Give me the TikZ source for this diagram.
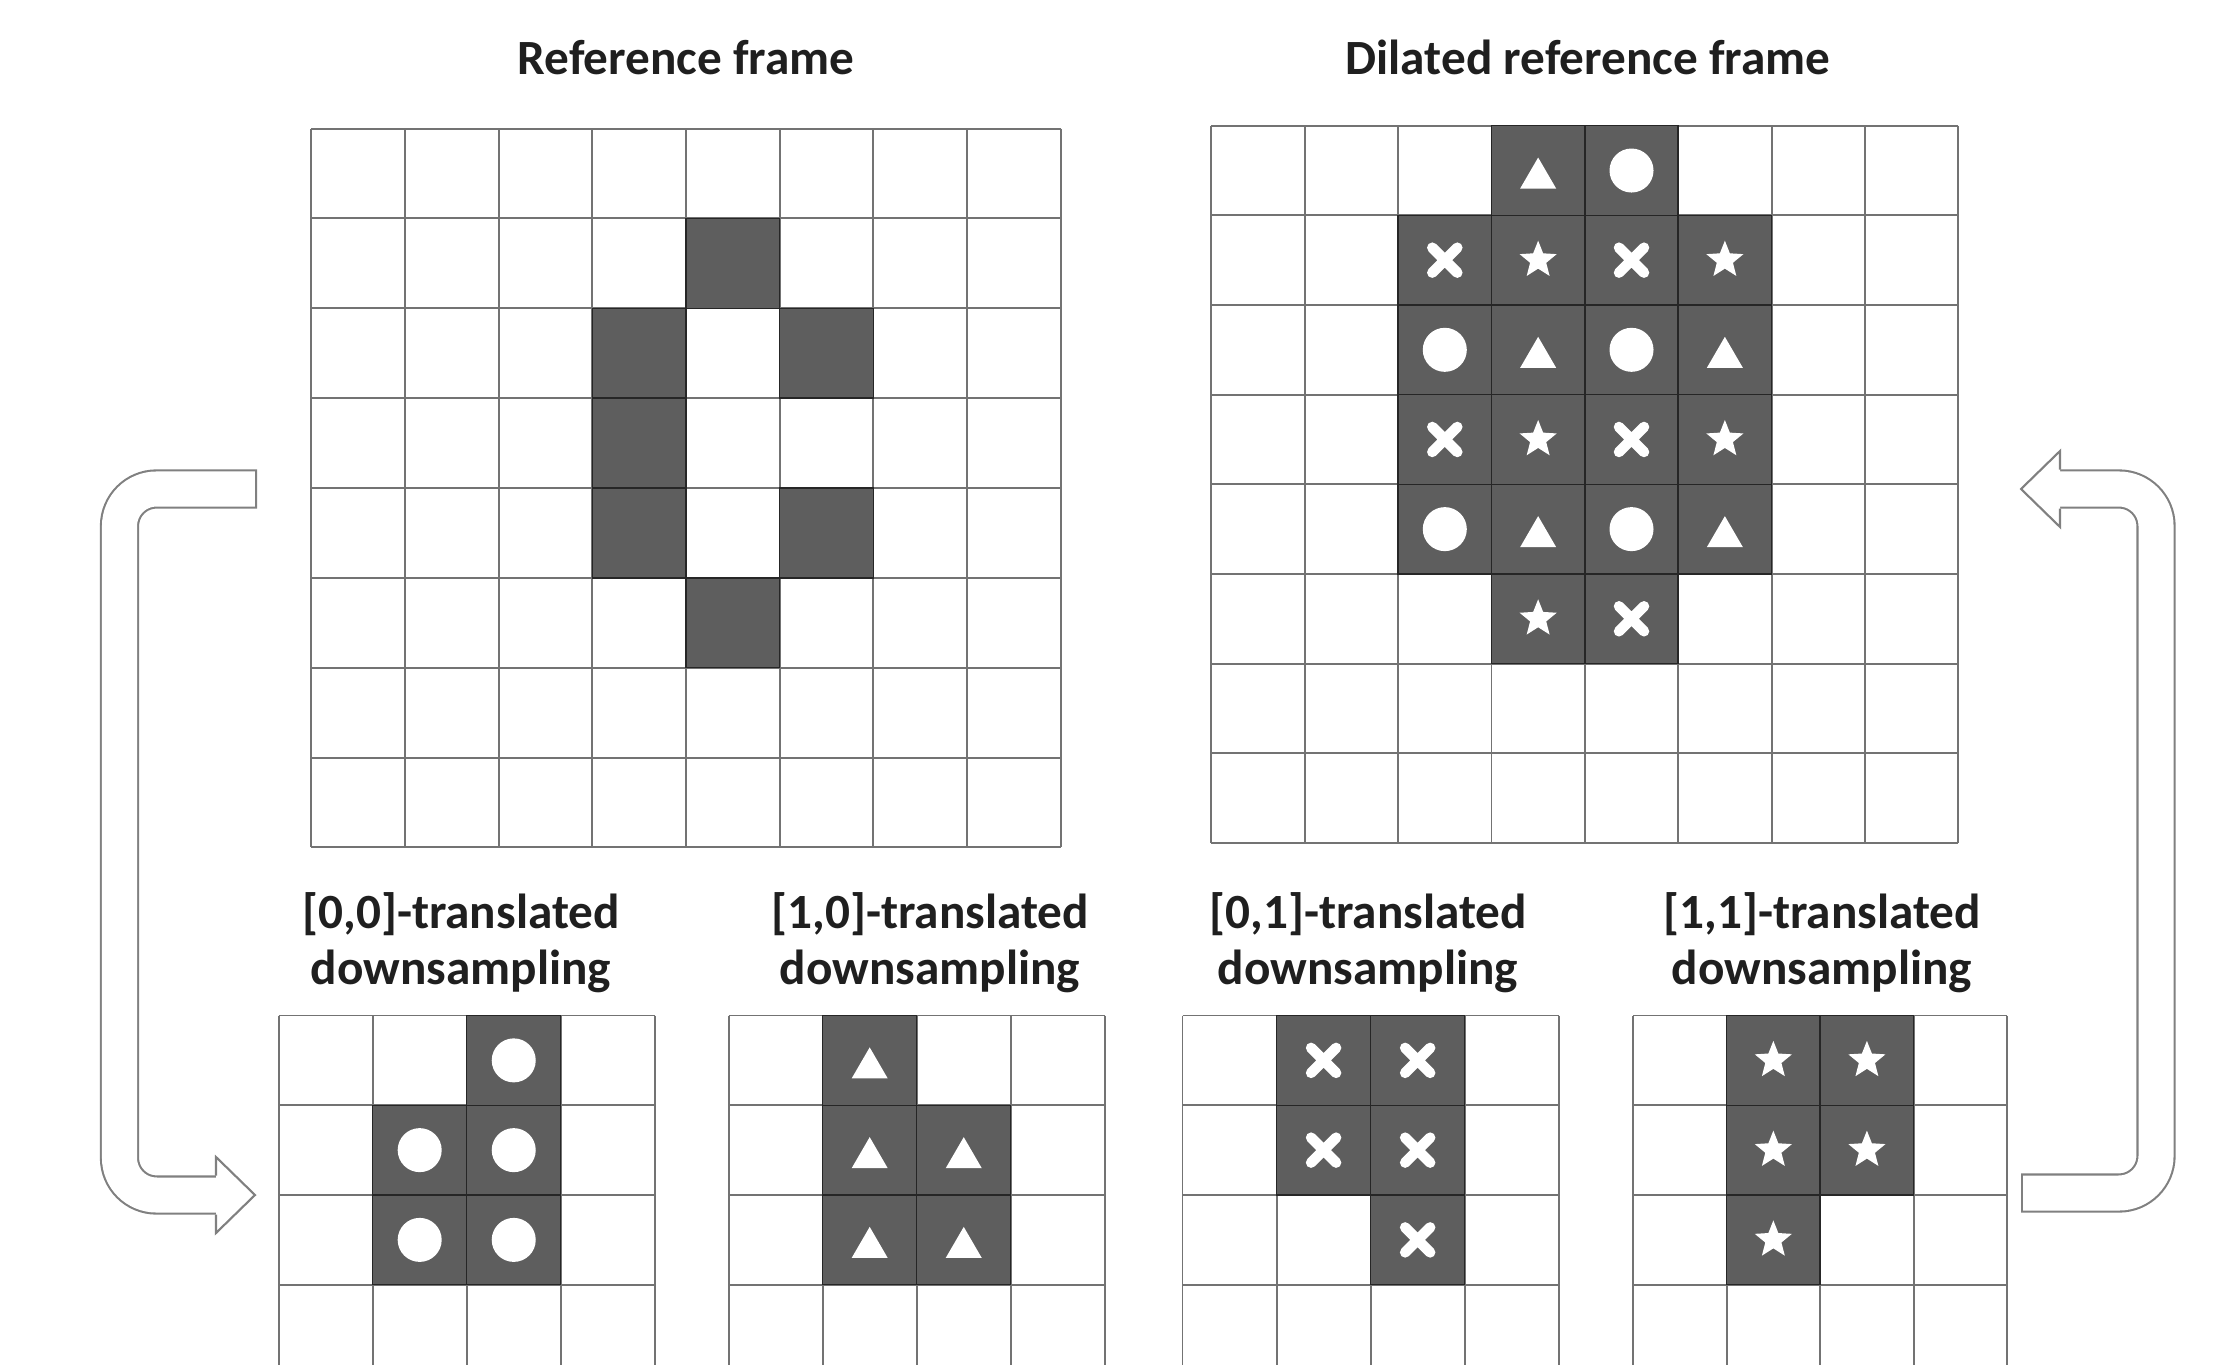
\documentclass[tikz,border=0pt]{standalone}
\usepackage{fontspec}
\setmainfont{Carlito}
\usetikzlibrary{calc,shapes.geometric}

\newcommand{\drawgrid}[3]{% columns, horizontal lines, depth
  \foreach \i in {0,...,#1} {\draw[gridline] (\i,0) -- (\i,#3);}
  \foreach \j in {0,...,#2} {\draw[gridline] (0,\j) -- (#1,\j);}
}
\newcommand{\darkcell}[2]{\path[hit] (#1,#2) rectangle ++(1,1);}
\newcommand{\hitcell}[3]{% column, row, symbol
  \darkcell{#1}{#2}
  \pic at (#1+0.5,#2+0.5) {#3};
}

\tikzset{
  dotpic/.pic={\fill[white] (0,0) circle[radius=0.22cm];},
  tripic/.pic={\fill[white] (-0.18cm,-0.18cm) -- (0.18cm,-0.18cm) -- (0,0.13cm) -- cycle;},
  crosspic/.pic={\draw[white, line width=0.105cm, line cap=round]
      (-0.125cm,-0.125cm) -- (0.125cm,0.125cm) (-0.125cm,0.125cm) -- (0.125cm,-0.125cm);},
  starpic/.pic={\node[star, star points=5, star point ratio=2.3, fill=white,
      inner sep=0pt, minimum size=0.39cm] {};}
}

\begin{document}
\begin{tikzpicture}[
  x=0.01cm, y=-0.01cm,
  title/.style={font=\fontsize{14}{15.8}\selectfont\bfseries, text=black!88,
                inner sep=0pt, align=center},
  gridline/.style={draw=black!55, line width=0.55pt},
  hit/.style={fill=black!63, draw=black!85, line width=0.4pt},
  hollow/.style={draw=black!50, line width=0.6pt, double=white,
                 double distance=0.35cm, line cap=rect, rounded corners=0.37cm},
  head/.style={draw=black!50, fill=white, line width=0.6pt}
]
  \useasboundingbox (0,0) rectangle (2240,1364);

  % titles
  \node[title, anchor=base] (reftitle) at (686,75) {Reference frame};
  \node[title, anchor=base] (diltitle) at (1588,75) {Dilated reference frame};

  % reference frame
  \begin{scope}[shift={(311.4,128.6)}, x=0.936cm, y=-0.898cm]
    \drawgrid{8}{8}{8}
    \foreach \c/\r in {4/1, 3/2, 5/2, 3/3, 3/4, 5/4, 4/5} {\darkcell{\c}{\r}}
  \end{scope}

  % dilated reference frame
  \begin{scope}[shift={(1211.4,125.7)}, x=0.933cm, y=-0.896cm]
    \drawgrid{8}{8}{8}
    \foreach \c/\r in {4/0, 2/2, 4/2, 2/4, 4/4} {\hitcell{\c}{\r}{dotpic}}
    \foreach \c/\r in {3/0, 3/2, 5/2, 3/4, 5/4} {\hitcell{\c}{\r}{tripic}}
    \foreach \c/\r in {2/1, 4/1, 2/3, 4/3, 4/5} {\hitcell{\c}{\r}{crosspic}}
    \foreach \c/\r in {3/1, 5/1, 3/3, 5/3, 3/5} {\hitcell{\c}{\r}{starpic}}
  \end{scope}

  % translated downsamplings
  \node[title, anchor=base] (lab00) at (461,984) {[0,0]-translated\\downsampling};
  \node[title, anchor=base] (lab10) at (930,984) {[1,0]-translated\\downsampling};
  \node[title, anchor=base] (lab01) at (1368,984) {[0,1]-translated\\downsampling};
  \node[title, anchor=base] (lab11) at (1822,984) {[1,1]-translated\\downsampling};

  \begin{scope}[shift={(278.6,1015.5)}, x=0.94cm, y=-0.897cm]
    \drawgrid{4}{3}{3.95}
    \foreach \c/\r in {2/0, 1/1, 2/1, 1/2, 2/2} {\hitcell{\c}{\r}{dotpic}}
  \end{scope}
  \begin{scope}[shift={(728.6,1015.5)}, x=0.94cm, y=-0.897cm]
    \drawgrid{4}{3}{3.95}
    \foreach \c/\r in {1/0, 1/1, 2/1, 1/2, 2/2} {\hitcell{\c}{\r}{tripic}}
  \end{scope}
  \begin{scope}[shift={(1182.5,1015.5)}, x=0.94cm, y=-0.897cm]
    \drawgrid{4}{3}{3.95}
    \foreach \c/\r in {1/0, 2/0, 1/1, 2/1, 2/2} {\hitcell{\c}{\r}{crosspic}}
  \end{scope}
  \begin{scope}[shift={(1633,1015.5)}, x=0.935cm, y=-0.897cm]
    \drawgrid{4}{3}{3.95}
    \foreach \c/\r in {1/0, 2/0, 1/1, 2/1, 1/2} {\hitcell{\c}{\r}{starpic}}
  \end{scope}

  % hollow arrows
  \coordinate (tailL) at (237.4,489);
  \coordinate (bendL) at (119.5,1195);
  \coordinate (baseL) at (210,1195);
  \coordinate (tipL) at (255,1195);
  \draw[hollow] (tailL) -| (bendL) -- (baseL);
  \path[head] ($(tipL)+(-39,-19.5)$) -- ($(tipL)+(-39,-38)$) -- (tipL)
    -- ($(tipL)+(-39,38)$) -- ($(tipL)+(-39,19.5)$);

  \coordinate (tailR) at (2040.6,1193);
  \coordinate (bendR) at (2156,489);
  \coordinate (baseR) at (2066,489);
  \coordinate (tipR) at (2021,489);
  \draw[hollow] (tailR) -| (bendR) -- (baseR);
  \path[head] ($(tipR)+(39,-19.5)$) -- ($(tipR)+(39,-38)$) -- (tipR)
    -- ($(tipR)+(39,38)$) -- ($(tipR)+(39,19.5)$);
\end{tikzpicture}
\end{document}
